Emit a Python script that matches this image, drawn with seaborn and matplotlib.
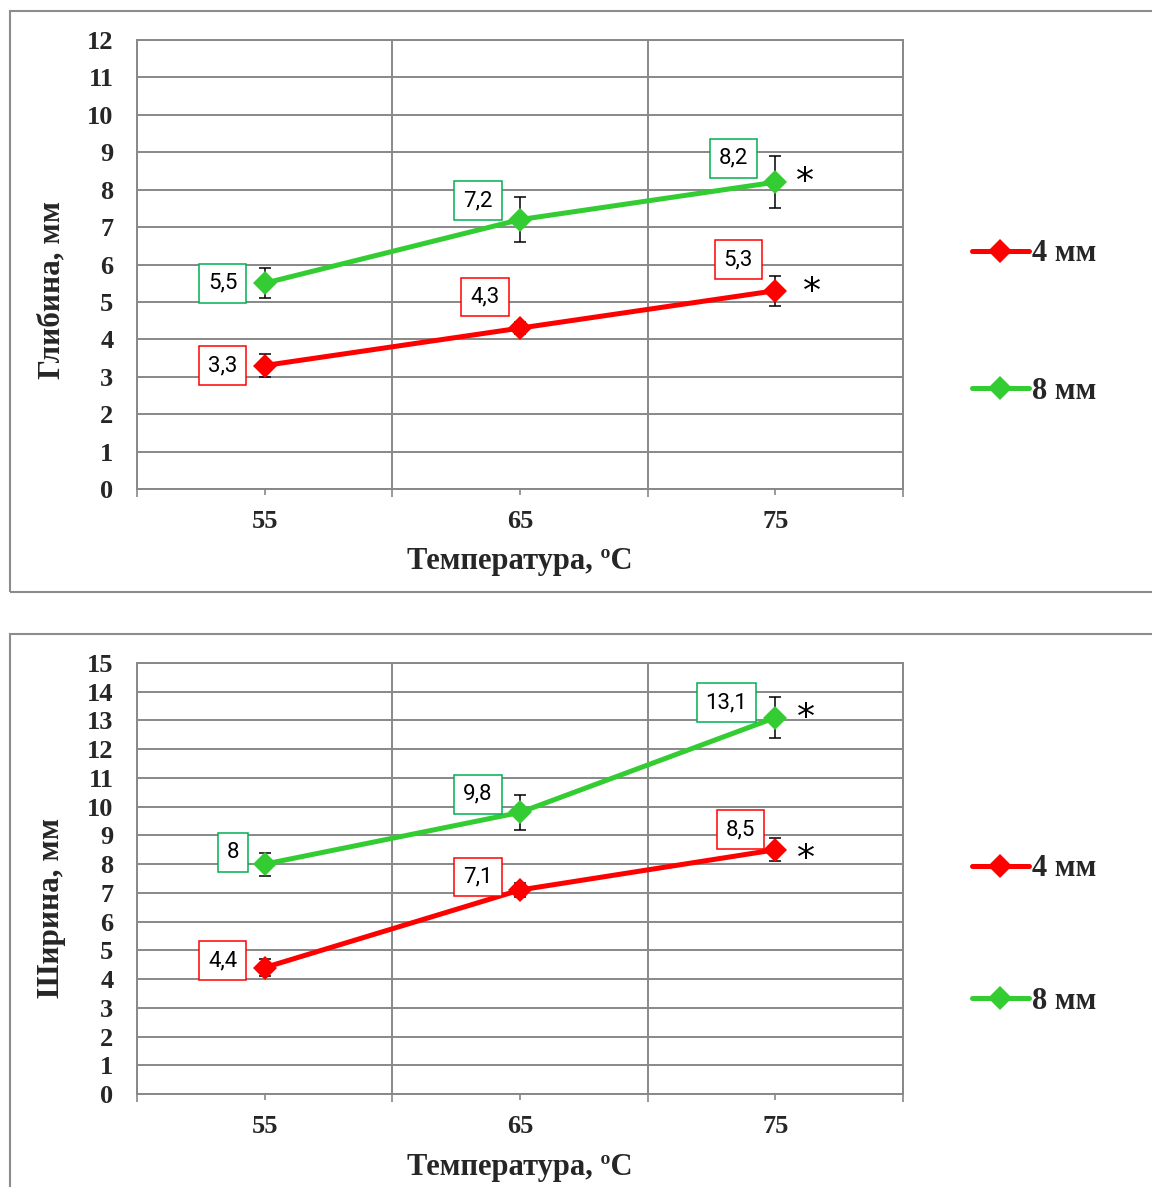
import matplotlib
matplotlib.use("Agg")
import matplotlib.pyplot as plt
from matplotlib.lines import Line2D
from matplotlib.patches import Rectangle
from matplotlib.ticker import FixedLocator
import seaborn as sns
import pandas as pd

# ---- data ----
temperatures = ["55", "65", "75"]
series_names = ["4 мм", "8 мм"]

depth_4mm = [3.3, 4.3, 5.3]
depth_8mm = [5.5, 7.2, 8.2]
depth_err_4mm = [0.3, 0.15, 0.4]
depth_err_8mm = [0.4, 0.6, 0.7]

width_4mm = [4.4, 7.1, 8.5]
width_8mm = [8.0, 9.8, 13.1]
width_err_4mm = [0.3, 0.25, 0.4]
width_err_8mm = [0.4, 0.6, 0.7]

depth_ylabel = "Глибина, мм"
width_ylabel = "Ширина, мм"
xlabel = "Температура, ºC"
significant = "*"

# ---- style ----
sns.set_style("white")
plt.rcParams["font.family"] = ["Liberation Serif", "DejaVu Serif"]

RED = "#FF0000"
GREEN = "#33CC33"
BOX_RED = "#FF0000"
BOX_GREEN = "#00B050"
GRID = "#888888"
palette = {series_names[0]: RED, series_names[1]: GREEN}
box_colors = {series_names[0]: BOX_RED, series_names[1]: BOX_GREEN}

W, H = 1152, 1187
fig = plt.figure(figsize=(W / 100, H / 100), dpi=100)


def fx(px):
    return px / W


def fy(py):
    return 1 - py / H


# panel frames
for top, bottom in [(11, 592), (634, 1200)]:
    fig.add_artist(Rectangle((fx(10), fy(bottom)), fx(1200) - fx(10), fy(top) - fy(bottom),
                             transform=fig.transFigure, fill=False,
                             edgecolor="#8C8C8C", linewidth=1.5, zorder=0))

# label offsets in pixels (box centre relative to point) per panel
depth_offsets = {series_names[0]: [(-42, 0), (-35, 31), (-37, 31)],
                 series_names[1]: [(-42, 0), (-42, 19), (-42, 24)]}
width_offsets = {series_names[0]: [(-42, 7), (-42, 13), (-35, 20)],
                 series_names[1]: [(-32, 12), (-42, 18), (-49, 15)]}
depth_star = {series_names[0]: (37, -1), series_names[1]: (30, 0)}
width_star = {series_names[0]: (31, -9), series_names[1]: (31, 0)}


def fmt(v):
    s = f"{v:.1f}".replace(".", ",")
    return s[:-2] if s.endswith(",0") else s


def panel(ax_rect, vals, errs, ymax, ylabel, offsets, stars, legend_y, legend_gap,
          ylabel_y, xlabel_y):
    left, top, right, bottom = ax_rect
    ax = fig.add_axes([fx(left), fy(bottom), fx(right) - fx(left), fy(top) - fy(bottom)])
    rows = []
    for name, v in zip(series_names, vals):
        for i, val in enumerate(v):
            rows.append({"pos": i, "value": val, "series": name})
    df = pd.DataFrame(rows)

    for name, v, e in zip(series_names, vals, errs):
        ax.errorbar(range(len(v)), v, yerr=e, fmt="none", ecolor="black",
                    elinewidth=1.1, capsize=4.5, capthick=1.1, zorder=2)

    sns.lineplot(data=df, x="pos", y="value", hue="series", palette=palette,
                 marker="D", markersize=12, markeredgewidth=0, linewidth=3.6,
                 legend=False, sort=False, errorbar=None, ax=ax, zorder=3)

    for name, v in zip(series_names, vals):
        for i, val in enumerate(v):
            dx, dy = offsets[name][i]
            ax.annotate(fmt(val), (i, val), xytext=(dx, dy), textcoords="offset pixels",
                        ha="center", va="center", fontsize=16, family="Roboto",
                        color="black",
                        bbox=dict(boxstyle="square,pad=0.4", fc="white",
                                  ec=box_colors[name], lw=1.1), zorder=5)
        sx, sy = stars[name]
        ax.annotate(significant, (len(v) - 1, v[-1]), xytext=(sx, sy),
                    textcoords="offset pixels", ha="center", va="center",
                    fontsize=26, family="DejaVu Sans", color="black", zorder=5)

    ax.set_xlim(-0.5, len(temperatures) - 0.5)
    ax.set_ylim(0, ymax)
    ax.xaxis.set_major_locator(FixedLocator([-0.5, 0.5, 1.5, 2.5]))
    ax.xaxis.set_minor_locator(FixedLocator(range(len(temperatures))))
    ax.set_xticklabels([], minor=False)
    ax.set_xticklabels(temperatures, minor=True)
    ax.set_yticks(range(0, ymax + 1))
    ax.tick_params(axis="x", which="major", length=6, width=1.2, color=GRID, bottom=True)
    ax.tick_params(axis="x", which="minor", length=4, width=1.2, color=GRID, bottom=True,
                   pad=11, labelsize=19)
    for lab in ax.get_xticklabels(minor=True):
        lab.set_fontweight("bold")
    ax.tick_params(axis="y", length=0, pad=17, labelsize=19)
    for lab in ax.get_yticklabels():
        lab.set_fontweight("bold")
    ax.grid(True, which="major", color=GRID, linewidth=1.4)
    for sp in ax.spines.values():
        sp.set_color(GRID)
        sp.set_linewidth(1.4)
    ax.set_xlabel("")
    ax.set_ylabel("")
    fig.text(fx(52), fy(ylabel_y), ylabel, rotation=90, ha="center", va="center",
             fontsize=22.5, fontweight="bold")
    fig.text(fx(520), fy(xlabel_y), xlabel, ha="center", va="center",
             fontsize=22, fontweight="bold")

    handles = [Line2D([], [], color=palette[n], lw=3.6, marker="D", markersize=12,
                      markeredgewidth=0) for n in series_names]
    ax.legend(handles, series_names, loc="center left",
              bbox_to_anchor=(fx(972), fy(legend_y)), bbox_transform=fig.transFigure,
              frameon=False, borderpad=0, borderaxespad=0, handlelength=1.85,
              handletextpad=0.12, labelspacing=legend_gap,
              prop={"family": "Liberation Serif", "weight": "bold", "size": 22})
    return ax


panel((137, 40, 903, 489), [depth_4mm, depth_8mm], [depth_err_4mm, depth_err_8mm], 12,
      depth_ylabel, depth_offsets, depth_star, 322.5, 3.55, 290, 561)
panel((137, 663, 903, 1094), [width_4mm, width_8mm], [width_err_4mm, width_err_8mm], 15,
      width_ylabel, width_offsets, width_star, 935, 3.38, 908, 1167)

fig.savefig("out.png", dpi=100)
